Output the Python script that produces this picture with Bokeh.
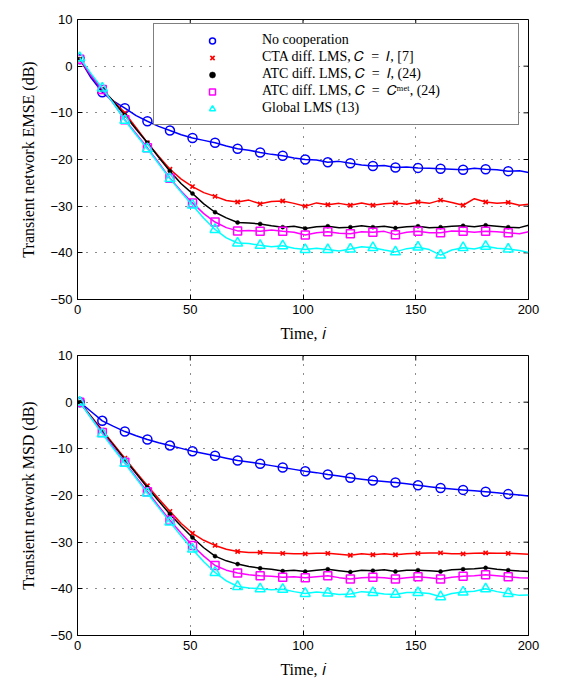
import math
from bokeh.plotting import figure
from bokeh.layouts import column
from bokeh.models import Legend, LegendItem, FixedTicker, Range1d
from bokeh.embed import file_html
from bokeh.resources import INLINE

# time indices (every 5 steps); markers are drawn every 10 steps
t = [1, 6, 11, 16, 21, 26, 31, 36, 41, 46, 51, 56, 61, 66, 71, 76, 81, 86, 91, 96,
     101, 106, 111, 116, 121, 126, 131, 136, 141, 146, 151, 156, 161, 166, 171, 176,
     181, 186, 191, 196, 200]

# ---- Transient network EMSE (dB) ----
emse_nocoop = [1.5, -2.5, -5.6, -7.5, -9.0, -10.6, -11.8, -12.9, -13.8, -14.7, -15.4, -15.9,
               -16.4, -17.1, -17.7, -18.0, -18.5, -18.9, -19.2, -19.7, -20.0, -20.1, -20.6,
               -20.4, -20.8, -21.2, -21.4, -21.3, -21.7, -21.6, -21.8, -21.9, -22.0, -22.1,
               -22.2, -21.9, -22.1, -22.2, -22.5, -22.4, -22.8]
emse_cta = [1.5, -2.0, -5.0, -7.5, -10.0, -13.2, -16.4, -19.3, -22.1, -24.2, -25.8, -27.1,
            -27.9, -28.8, -29.1, -28.7, -29.5, -29.0, -28.9, -29.4, -30.0, -29.3, -29.7,
            -29.4, -29.8, -29.3, -29.8, -29.5, -29.3, -29.6, -29.1, -29.4, -28.7, -29.2,
            -29.8, -28.4, -29.1, -29.4, -29.2, -29.8, -29.6]
emse_atc = [1.5, -2.0, -5.0, -7.6, -10.5, -13.5, -16.4, -19.5, -22.5, -25.2, -27.3, -29.5,
            -31.3, -32.5, -33.5, -33.6, -33.8, -34.2, -34.5, -34.3, -34.8, -34.4, -34.3,
            -34.6, -34.5, -34.2, -34.5, -34.3, -34.7, -34.4, -34.3, -34.6, -34.5, -34.3,
            -34.2, -34.4, -34.1, -34.3, -34.5, -34.6, -34.1]
emse_atcmet = [1.5, -2.0, -5.0, -8.0, -11.5, -14.5, -17.5, -20.7, -24.0, -26.8, -29.3, -31.6,
               -33.4, -34.6, -35.3, -35.2, -35.4, -35.1, -35.4, -35.6, -36.2, -35.7, -35.5,
               -35.8, -35.9, -35.5, -35.6, -35.4, -36.1, -35.6, -35.4, -35.7, -35.7, -35.3,
               -35.4, -35.6, -35.4, -35.5, -35.7, -35.9, -35.5]
emse_global = [1.8, -1.6, -4.7, -8.0, -11.6, -14.7, -17.7, -20.9, -24.1, -27.0, -29.8, -32.6,
               -35.0, -36.8, -37.9, -38.0, -38.4, -38.7, -38.5, -39.0, -39.3, -39.0, -39.3,
               -39.6, -39.2, -38.7, -38.9, -39.4, -39.8, -39.1, -38.8, -39.3, -40.5, -39.4,
               -38.9, -39.2, -38.6, -39.0, -39.2, -39.5, -39.9]

# ---- Transient network MSD (dB) ----
msd_nocoop = [0.0, -2.0, -4.0, -5.2, -6.3, -7.2, -8.0, -8.7, -9.3, -9.9, -10.5, -11.0,
              -11.5, -12.0, -12.5, -12.8, -13.2, -13.6, -14.0, -14.4, -14.8, -15.1, -15.5,
              -15.8, -16.2, -16.5, -16.8, -17.0, -17.2, -17.5, -17.8, -18.1, -18.4, -18.6,
              -18.8, -19.0, -19.2, -19.4, -19.7, -19.9, -20.1]
msd_cta = [0.0, -3.0, -6.0, -9.0, -12.0, -15.0, -17.9, -20.7, -23.4, -26.0, -28.1, -29.6,
           -30.7, -31.5, -32.0, -32.2, -32.2, -32.3, -32.4, -32.5, -32.5, -32.4, -32.4,
           -32.6, -32.8, -32.5, -32.7, -32.5, -32.7, -32.5, -32.4, -32.3, -32.3, -32.5,
           -32.5, -32.4, -32.3, -32.4, -32.4, -32.5, -32.6]
msd_atc = [0.0, -3.1, -6.2, -9.2, -12.3, -15.3, -18.3, -21.2, -24.0, -26.6, -29.0, -31.2,
           -33.0, -34.0, -34.7, -35.2, -35.6, -35.8, -36.2, -36.0, -36.3, -36.0, -35.8,
           -36.1, -36.4, -36.0, -36.1, -35.9, -36.3, -36.0, -36.0, -36.1, -36.3, -35.9,
           -35.8, -35.7, -35.5, -35.8, -36.0, -36.2, -36.3]
msd_atcmet = [0.0, -3.3, -6.5, -9.7, -12.9, -16.1, -19.2, -22.3, -25.3, -28.1, -30.7, -33.0,
              -35.0, -36.0, -36.6, -37.0, -37.2, -37.3, -37.5, -37.4, -37.6, -37.4, -37.2,
              -37.6, -37.9, -37.6, -37.5, -37.6, -37.9, -37.6, -37.4, -37.6, -37.9, -37.5,
              -37.3, -37.2, -37.0, -37.2, -37.4, -37.6, -37.7]
msd_global = [0.0, -3.4, -6.8, -10.0, -13.1, -16.3, -19.5, -22.6, -25.7, -28.7, -31.5, -34.2,
              -36.5, -38.3, -39.5, -39.8, -40.0, -40.2, -40.1, -40.6, -41.0, -40.7, -40.9,
              -41.2, -41.1, -40.6, -40.8, -41.1, -41.2, -40.8, -40.8, -41.0, -41.7, -41.0,
              -40.7, -40.5, -40.0, -40.6, -41.0, -41.4, -41.3]

labels = ["No cooperation",
          "CTA diff. LMS, \U0001D436\u2002=\u2002\U0001D43C, [7]",
          "ATC diff. LMS, \U0001D436\u2002=\u2002\U0001D43C, (24)",
          "ATC diff. LMS, \U0001D436\u2002=\u2002\U0001D436\u1d50\u1d49\u1d57, (24)",
          "Global LMS (13)"]

x_ticks = [0, 50, 100, 150, 200]
y_ticks = [-50, -40, -30, -20, -10, 0, 10]

colors = ["#0000ff", "#ff0000", "#000000", "#ff00ff", "#00ffff"]
markers = ["circle", "x", "circle", "square", "triangle"]
filled = [False, True, True, False, False]
msizes = [9, 6, 4, 8, 10]
mwidths = [1.5, 1.6, 0.5, 1.5, 1.5]

SERIF = "Liberation Serif"
SANS = "Liberation Sans"


def style_axis(ax):
    ax.major_tick_in = 5
    ax.major_tick_out = 0
    ax.minor_tick_in = 0
    ax.minor_tick_out = 0
    ax.axis_line_color = "black"
    ax.major_tick_line_color = "black"
    ax.major_label_text_font = SANS
    ax.major_label_text_color = "black"
    ax.major_label_text_font_size = "13px"
    ax.axis_label_text_font = SERIF
    ax.axis_label_text_font_style = "normal"
    ax.axis_label_text_font_size = "16px"
    ax.axis_label_text_color = "black"


def make_fig(ylabel, series, top_border, bottom_border, with_legend):
    p = figure(frame_width=451, frame_height=280,
               x_range=Range1d(0, 200), y_range=Range1d(-50, 10),
               output_backend="svg", toolbar_location=None,
               min_border_left=77, min_border_right=25,
               min_border_top=top_border, min_border_bottom=bottom_border)
    p.background_fill_color = "white"
    p.outline_line_color = "black"
    p.outline_line_width = 1
    p.xaxis.ticker = FixedTicker(ticks=x_ticks)
    p.yaxis.ticker = FixedTicker(ticks=y_ticks)
    p.yaxis.major_label_overrides = {v: str(v).replace("-", "\u2212") for v in y_ticks}
    p.xaxis.axis_label = "Time, \U0001D456"
    p.yaxis.axis_label = ylabel
    style_axis(p.xaxis[0])
    style_axis(p.yaxis[0])
    p.xaxis.axis_label_standoff = 8
    p.xaxis.major_label_standoff = 5
    p.yaxis.axis_label_standoff = 10
    p.yaxis.major_label_standoff = 5

    # box ticks on the right and top edges (inward), at the tick values
    p.ray(x=[200] * len(y_ticks), y=y_ticks, length=5, length_units="screen",
          angle=math.pi, line_color="black", line_width=1)
    p.ray(x=x_ticks, y=[10] * len(x_ticks), length=5, length_units="screen",
          angle=-math.pi / 2, line_color="black", line_width=1)

    p.xgrid.ticker = FixedTicker(ticks=[50, 100, 150])
    p.ygrid.ticker = FixedTicker(ticks=[-40, -30, -20, -10, 0])
    for g in (p.xgrid[0], p.ygrid[0]):
        g.grid_line_color = "black"
        g.grid_line_dash = "1 8"
        g.grid_line_width = 1
        g.grid_line_alpha = 0.9

    items = []
    for ys, c, m, f, s, w, lab in zip(series, colors, markers, filled, msizes, mwidths, labels):
        p.line(t, ys, line_color=c, line_width=1.5)
        mx = t[0:40:2]
        my = ys[0:40:2]
        r = p.scatter(mx, my, marker=m, size=s, line_color=c,
                      line_width=w, fill_color=(c if f else None))
        items.append(LegendItem(label=lab, renderers=[r]))
    if with_legend:
        leg = Legend(items=items, location=(76, 174))
        leg.label_text_font = SERIF
        leg.label_text_font_size = "14px"
        leg.label_text_color = "black"
        leg.glyph_width = 100
        leg.glyph_height = 15
        leg.label_height = 15
        leg.label_width = 248
        leg.label_standoff = 0
        leg.spacing = 1
        leg.padding = 8
        leg.margin = 0
        leg.border_line_color = "black"
        leg.border_line_width = 1
        leg.background_fill_color = "white"
        leg.background_fill_alpha = 1.0
        p.add_layout(leg)
    return p


p1 = make_fig("Transient network EMSE (dB)",
              [emse_nocoop, emse_cta, emse_atc, emse_atcmet, emse_global],
              19, 49, True)
p2 = make_fig("Transient network MSD (dB)",
              [msd_nocoop, msd_cta, msd_atc, msd_atcmet, msd_global],
              7, 46, False)

p = column(p1, p2)
open("out.html", "w").write(file_html(p, INLINE))
